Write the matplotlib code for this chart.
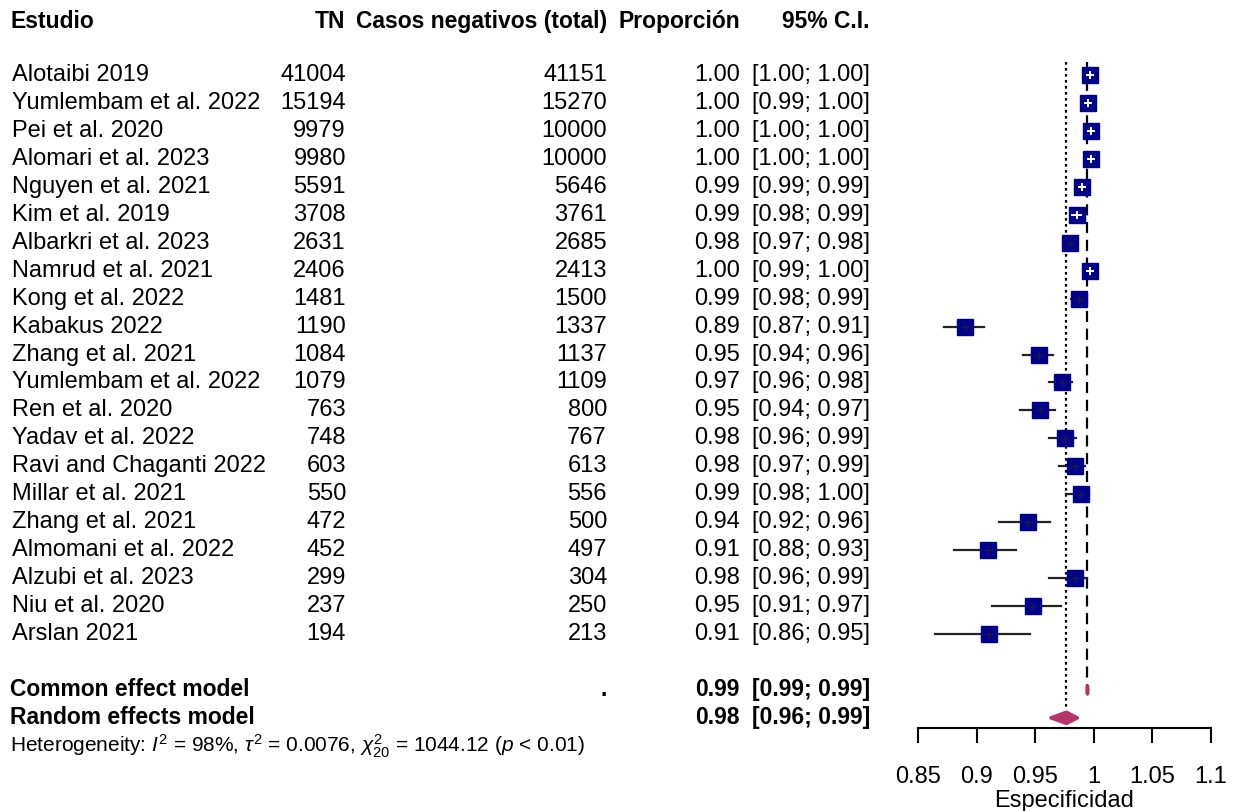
import matplotlib
matplotlib.use("Agg")
import matplotlib.pyplot as plt
from matplotlib.transforms import blended_transform_factory

plt.rcParams['font.family'] = ['Liberation Sans', 'DejaVu Sans']
plt.rcParams['mathtext.fontset'] = 'custom'
plt.rcParams['mathtext.rm'] = 'Liberation Sans'
plt.rcParams['mathtext.it'] = 'Liberation Sans:italic'

# ---- data ----
studies = ["Alotaibi 2019", "Yumlembam et al. 2022", "Pei et al. 2020", "Alomari et al. 2023",
           "Nguyen et al. 2021", "Kim et al. 2019", "Albarkri et al. 2023", "Namrud et al. 2021",
           "Kong et al. 2022", "Kabakus 2022", "Zhang et al. 2021", "Yumlembam et al. 2022",
           "Ren et al. 2020", "Yadav et al. 2022", "Ravi and Chaganti 2022", "Millar et al. 2021",
           "Zhang et al. 2021", "Almomani et al. 2022", "Alzubi et al. 2023", "Niu et al. 2020",
           "Arslan 2021"]
tn = [41004, 15194, 9979, 9980, 5591, 3708, 2631, 2406, 1481, 1190, 1084,
      1079, 763, 748, 603, 550, 472, 452, 299, 237, 194]
total_neg = [41151, 15270, 10000, 10000, 5646, 3761, 2685, 2413, 1500, 1337, 1137,
             1109, 800, 767, 613, 556, 500, 497, 304, 250, 213]
prop = [0.9964, 0.9951, 0.9979, 0.9980, 0.9903, 0.9859, 0.9799, 0.9971, 0.9873, 0.8901, 0.9534,
        0.9730, 0.9538, 0.9752, 0.9837, 0.9892, 0.9440, 0.9095, 0.9836, 0.9480, 0.9108]
ci_low = [0.9958, 0.9938, 0.9968, 0.9969, 0.9873, 0.9816, 0.9738, 0.9940, 0.9803, 0.8722, 0.9395,
          0.9615, 0.9367, 0.9616, 0.9702, 0.9767, 0.9195, 0.8807, 0.9620, 0.9129, 0.8647]
ci_high = [0.9970, 0.9961, 0.9987, 0.9988, 0.9926, 0.9894, 0.9849, 0.9988, 0.9924, 0.9061, 0.9649,
           0.9817, 0.9673, 0.9851, 0.9922, 0.9960, 0.9628, 0.9333, 0.9946, 0.9720, 0.9454]

common = (0.9946, 0.9942, 0.9949)
random_fx = (0.9767, 0.9634, 0.9860)
het_text = r"Heterogeneity: $I^2$ = 98%, $\tau^2$ = 0.0076, $\chi^2_{20}$ = 1044.12 ($p$ < 0.01)"

x_ticks = [0.85, 0.9, 0.95, 1, 1.05, 1.1]
x_ticklabels = ["0.85", "0.9", "0.95", "1", "1.05", "1.1"]

# ---- figure ----
W, H = 1235, 811
fig = plt.figure(figsize=(W / 100, H / 100), dpi=100)
ax = fig.add_axes([918 / W, 0, 293 / W, 1])
row_h = 27.95
ax.set_ylim((H - 75) / row_h, -75 / row_h)
ax.set_xlim(0.85, 1.1)

n = len(studies)
ys = list(range(n))
y_common, y_random, y_het, y_head = 22, 23, 24, -1.9

fs = 17
fs_bold = 16.5
sq_col = '#00008B'
dia_col = '#B8336A'
ci_col = '#222222'

# reference lines for pooled estimates
ax.plot([random_fx[0], random_fx[0]], [-0.47, y_random - 0.3], color='black', ls=(0, (1.2, 1.5)), lw=1.6, zorder=1)
ax.plot([common[0], common[0]], [-0.47, y_common - 0.15], color='black', ls=(0, (5, 3)), lw=1.6, zorder=1)

# study squares and confidence intervals
half = 7.0 * (0.25 / 293)
for y, p, lo, hi in zip(ys, prop, ci_low, ci_high):
    inside = (p - lo) < half and (hi - p) < half
    if not inside:
        ax.plot([lo, hi], [y, y], color=ci_col, lw=1.6, zorder=2)
    ax.plot(p, y, marker='s', ms=11, color=sq_col, mec=sq_col, zorder=3)
    if inside:
        ax.plot([lo, hi], [y, y], color='white', lw=1.4, zorder=4)
        ax.plot(p, y, marker='+', ms=6, mew=1.4, color='white', zorder=4)
    else:
        ax.plot(p, y, marker='+', ms=6, mew=1.0, color='#1a1a40', zorder=4)

# pooled diamonds
for (est, lo, hi), y, h in [(common, y_common, 0.15), (random_fx, y_random, 0.2)]:
    ax.fill([lo, est, hi, est], [y, y - h, y, y + h], color=dia_col, ec=dia_col, lw=2.5,
            joinstyle='round', zorder=3)

# axis
for s in ['top', 'right', 'left']:
    ax.spines[s].set_visible(False)
ax.spines['bottom'].set_position(('data', (728 - 75) / row_h))
ax.spines['bottom'].set_linewidth(1.5)
ax.set_yticks([])
ax.set_xticks(x_ticks)
ax.set_xticklabels(x_ticklabels, fontsize=fs)
ax.tick_params(axis='x', length=11, width=1.5, pad=16)
ax.set_xlabel("Especificidad", fontsize=fs, labelpad=2)
ax.set_facecolor('none')

# text columns
tr = blended_transform_factory(fig.transFigure, ax.transData)
def put(xpx, y, s, ha='left', weight='normal', size=None):
    if size is None:
        size = fs_bold if weight == 'bold' else fs
    ax.text(xpx / W, y, s, transform=tr, ha=ha, va='center', fontsize=size,
            fontweight=weight, clip_on=False)

put(10, y_head, "Estudio", weight='bold')
put(345, y_head, "TN", ha='right', weight='bold')
put(607, y_head, "Casos negativos (total)", ha='right', weight='bold')
put(740, y_head, "Proporción", ha='right', weight='bold')
put(870, y_head, "95% C.I.", ha='right', weight='bold')

for y, name, a, b, p, lo, hi in zip(ys, studies, tn, total_neg, prop, ci_low, ci_high):
    put(12, y, name)
    put(346, y, str(a), ha='right')
    put(607, y, str(b), ha='right')
    put(740, y, f"{p:.2f}", ha='right')
    put(870, y, f"[{lo:.2f}; {hi:.2f}]", ha='right')

for label, (est, lo, hi), y in [("Common effect model", common, y_common),
                                ("Random effects model", random_fx, y_random)]:
    put(10, y, label, weight='bold')
    put(740, y, f"{est:.2f}", ha='right', weight='bold')
    put(870, y, f"[{lo:.2f}; {hi:.2f}]", ha='right', weight='bold')
put(607, y_common, ".", ha='right', weight='bold')

put(10, y_het, het_text, size=15)

fig.savefig("out.png", dpi=100, facecolor='white')
